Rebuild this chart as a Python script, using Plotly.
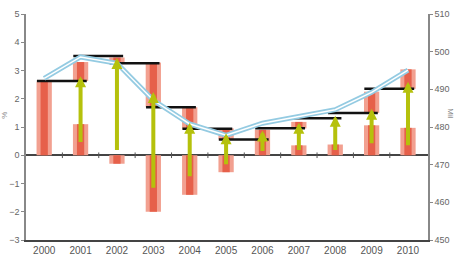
import plotly.graph_objects as go

years = [2000, 2001, 2002, 2003, 2004, 2005, 2006, 2007, 2008, 2009, 2010]
year_labels = [str(y) for y in years]

# bars anchored at zero (left axis)
base_bars = [2.6, 1.1, -0.3, -2.0, -1.4, -0.6, 0.9, 0.35, 0.38, 1.06, 0.97]
# floating bars (bottom, top) on left axis; None = no bar
float_bottom = [None, 2.63, 3.26, 1.70, 0.94, 0.56, None, 0.95, None, 1.50, 2.35]
float_top = [None, 3.30, 3.46, 3.28, 1.70, 0.95, None, 1.18, None, 2.25, 3.04]

# step levels (black lines), for 2000..2009
levels = [2.63, 3.51, 3.26, 1.70, 0.94, 0.56, 0.96, 1.31, 1.50, 2.35]

# arrows: tail and head on left axis, for 2001..2010
arrow_years = [2001, 2002, 2003, 2004, 2005, 2006, 2007, 2008, 2009, 2010]
arrow_tail = [0.42, 0.13, -1.2, -0.8, -0.37, 0.1, 0.13, 0.13, 0.37, 0.3]
arrow_head = [2.80, 3.44, 2.24, 1.15, 0.78, 0.88, 1.15, 1.40, 1.65, 2.60]

# blue line on right axis
line_vals = [492.9, 498.6, 496.9, 487.1, 480.8, 477.8, 481.0, 482.9, 484.6, 489.2, 495.1]

fig = go.Figure()

OUTER_W = 0.42
INNER_W = 0.2

# base bars
fig.add_trace(go.Bar(x=years, y=base_bars, width=OUTER_W, marker_color="#f2a090",
                     marker_line_width=0, showlegend=False))
fig.add_trace(go.Bar(x=years, y=base_bars, width=INNER_W, marker_color="#e6604a",
                     marker_line_width=0, showlegend=False))

# floating bars
fy = [None if b is None else t - b for b, t in zip(float_bottom, float_top)]
fb = [0 if b is None else b for b in float_bottom]
fig.add_trace(go.Bar(x=years, y=fy, base=fb, width=OUTER_W, marker_color="#f2a090",
                     marker_line_width=0, showlegend=False))
fig.add_trace(go.Bar(x=years, y=fy, base=fb, width=INNER_W, marker_color="#e6604a",
                     marker_line_width=0, showlegend=False))

# zero-line tick marks between categories
fig.add_trace(go.Scatter(x=[y + 0.5 for y in years[:-1]], y=[0] * (len(years) - 1),
                         mode="markers", marker=dict(symbol="line-ns-open", size=4,
                         color="#555", line=dict(width=1, color="#555")),
                         showlegend=False, hoverinfo="skip"))

# blue double line (right axis)
fig.add_trace(go.Scatter(x=years, y=line_vals, yaxis="y2", mode="lines",
                         line=dict(color="#94cbe2", width=5), showlegend=False))
fig.add_trace(go.Scatter(x=years, y=line_vals, yaxis="y2", mode="lines",
                         line=dict(color="#ffffff", width=1.5), showlegend=False))

# step level lines
lx, ly = [], []
for yr, lv in zip(years[:-1], levels):
    lx += [yr - 0.2, yr + 1.17, None]
    ly += [lv, lv, None]
fig.add_trace(go.Scatter(x=lx, y=ly, mode="lines", line=dict(color="#111111", width=2.5),
                         showlegend=False))

annotations = []
for yr, t, h in zip(arrow_years, arrow_tail, arrow_head):
    annotations.append(dict(x=yr, y=h, ax=yr, ay=t, xref="x", yref="y", axref="x", ayref="y",
                            text="", showarrow=True, arrowhead=2, arrowsize=0.55,
                            arrowwidth=4, arrowcolor="#b5c10c", standoff=0, startstandoff=0))

annotations.append(dict(x=-0.052, y=0.55, xref="paper", yref="paper", text="%", showarrow=False,
                        textangle=-90, xanchor="center", yanchor="middle",
                        font=dict(size=8, color="#888")))
annotations.append(dict(x=1.055, y=0.56, xref="paper", yref="paper", text="Mil", showarrow=False,
                        textangle=90, xanchor="center", yanchor="middle",
                        font=dict(size=8, color="#888")))

fig.update_layout(
    width=462, height=265,
    margin=dict(l=26, r=34, t=9, b=20),
    paper_bgcolor="white", plot_bgcolor="white",
    barmode="overlay",
    font=dict(family="Liberation Sans, Arial, sans-serif", color="#666"),
    annotations=annotations,
    xaxis=dict(range=[1999.5, 2010.55], tickvals=years, ticktext=year_labels,
               showline=True, linecolor="#444", linewidth=1.5, ticks="",
               showgrid=False, zeroline=False,
               tickfont=dict(size=10, color="#555")),
    yaxis=dict(range=[-3, 5], dtick=1, showline=True, linecolor="#888", linewidth=1.5,
               ticks="outside", ticklen=3, tickcolor="#888", showgrid=False,
               zeroline=True, zerolinecolor="#444", zerolinewidth=1.5,
               tickfont=dict(size=9, color="#666")),
    yaxis2=dict(range=[450, 510], dtick=10, overlaying="y", side="right",
                showline=True, linecolor="#888", linewidth=1.5, ticks="outside",
                ticklen=3, tickcolor="#888", showgrid=False, zeroline=False,
                tickfont=dict(size=9, color="#666")),
)

fig.write_html("out.html")
